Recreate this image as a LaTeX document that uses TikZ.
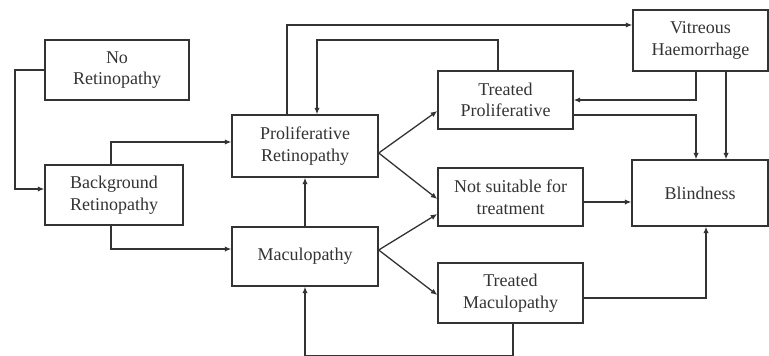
\documentclass[tikz,border=0pt]{standalone}
\usepackage{fontspec}
\setmainfont{Liberation Serif}
\usetikzlibrary{arrows.meta}
\definecolor{ink}{HTML}{333333}
\tikzset{
  box/.style={draw=ink, line width=1.4pt, text=ink, align=center, inner sep=0pt,
    font=\fontsize{18}{21.5}\selectfont},
  arr/.style={draw=ink, line width=1.3pt, -{Latex[length=6.5pt,width=5.5pt]}},
}
\begin{document}
\begin{tikzpicture}[x=1pt,y=-1pt]
\useasboundingbox (0,0) rectangle (769,356);
% boxes
\node[box, minimum width=144pt, minimum height=60pt] (nr) at (117,70) {No\\Retinopathy};
\node[box, minimum width=138pt, minimum height=60pt] (br) at (114,195) {Background\\Retinopathy};
\node[box, minimum width=146pt, minimum height=62pt] (pr) at (305,146) {Proliferative\\Retinopathy};
\node[box, minimum width=146pt, minimum height=59pt] (mac) at (305,256.5) {Maculopathy};
\node[box, minimum width=135pt, minimum height=58pt] (tp) at (505.5,100) {Treated\\Proliferative};
\node[box, minimum width=145pt, minimum height=58pt] (ns) at (510.5,197) {Not suitable for\\treatment};
\node[box, minimum width=145pt, minimum height=60pt] (tm) at (510.5,293) {Treated\\Maculopathy};
\node[box, minimum width=135pt, minimum height=61pt] (vh) at (700.5,40.5) {Vitreous\\Haemorrhage};
\node[box, minimum width=136pt, minimum height=66pt] (bl) at (700,193) {Blindness};
% fan origins
\coordinate (pf) at (pr.east |- 0,153);
\coordinate (mf) at (mac.east |- 0,250);
% connectors
\draw[arr] (nr.west) -- (15,70) |- (br.west |- 0,189);
\draw[arr] (br.north -| 111,0) |- (pr.west |- 0,142);
\draw[arr] (br.south -| 111,0) |- (mac.west |- 0,249);
\draw[arr] (mac.north) -- (pr.south);
\draw[arr] (tm.south -| 513,0) -- (513,355.5) -| (mac.south);
\draw[arr] (pr.north -| 287,0) |- (vh.west |- 0,25);
\draw[arr] (tp.north -| 498,0) |- (317,40) -- (pr.north -| 317,0);
\draw[arr] (pf) -- (tp.west |- 0,111);
\draw[arr] (pf) -- (ns.west |- 0,199);
\draw[arr] (mf) -- (ns.west |- 0,214);
\draw[arr] (mf) -- (tm.west |- 0,295);
\draw[arr] (vh.south -| 696,0) |- (tp.east |- 0,100);
\draw[arr] (vh.south -| 726,0) -- (bl.north -| 726,0);
\draw[arr] (tp.east |- 0,115) -| (bl.north -| 696,0);
\draw[arr] (ns.east |- 0,202) -- (bl.west |- 0,202);
\draw[arr] (tm.east |- 0,298) -| (bl.south -| 706,0);
\end{tikzpicture}
\end{document}
